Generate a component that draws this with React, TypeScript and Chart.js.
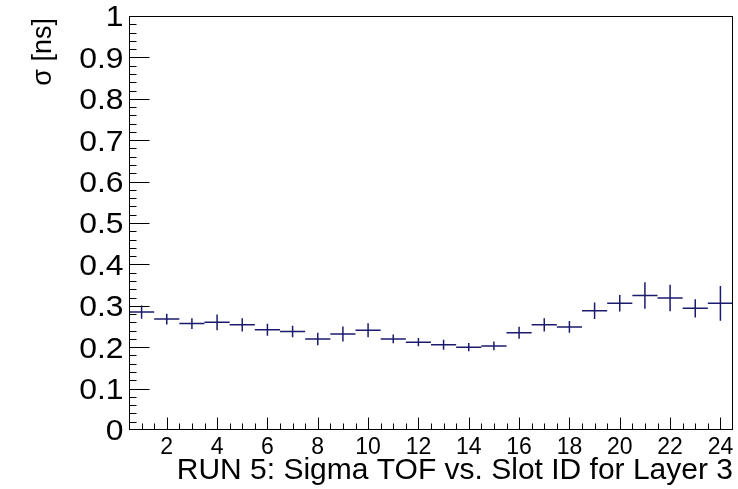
import { useEffect, useRef } from 'react';
import { Chart, registerables } from 'chart.js';

Chart.register(...registerables);

const slotIds = [1, 2, 3, 4, 5, 6, 7, 8, 9, 10, 11, 12, 13, 14, 15, 16, 17, 18, 19, 20, 21, 22, 23, 24];
const sigmaValues = [0.285, 0.268, 0.257, 0.26, 0.254, 0.242, 0.238, 0.22, 0.232, 0.241, 0.22, 0.212, 0.206, 0.2, 0.203, 0.235, 0.254, 0.249, 0.288, 0.306, 0.325, 0.319, 0.294, 0.306];
const sigmaErrors = [0.016, 0.013, 0.013, 0.019, 0.016, 0.0145, 0.014, 0.015, 0.018, 0.017, 0.0105, 0.01, 0.012, 0.01, 0.0105, 0.0145, 0.016, 0.014, 0.02, 0.02, 0.032, 0.032, 0.022, 0.042];
const xTickValues = [2, 4, 6, 8, 10, 12, 14, 16, 18, 20, 22, 24];
const yTickValues = [0, 0.1, 0.2, 0.3, 0.4, 0.5, 0.6, 0.7, 0.8, 0.9, 1];
const yTickLabels = ['0', '0.1', '0.2', '0.3', '0.4', '0.5', '0.6', '0.7', '0.8', '0.9', '1'];
const xTitle = 'RUN 5: Sigma TOF vs. Slot ID for Layer 3';
const yTitle = 'σ [ns]';

const FONT = '"Liberation Sans", Arial, Helvetica, sans-serif';
const MARK = '#1b1b6e';

export default function App() {
  const ref = useRef<HTMLCanvasElement>(null);

  useEffect(() => {
    document.body.style.margin = '0';
    const canvas = ref.current;
    if (!canvas) return;

    const rootStyle = {
      id: 'rootStyle',
      afterDatasetsDraw(chart: any) {
        const { ctx, chartArea: a } = chart;
        const x = chart.scales.x;
        const y = chart.scales.y;
        ctx.save();

        // error-bar crosses
        ctx.strokeStyle = MARK;
        ctx.lineWidth = 1.5;
        const pts = chart.data.datasets[0].data as { x: number; y: number }[];
        pts.forEach((p, i) => {
          const e = sigmaErrors[i];
          const px = x.getPixelForValue(p.x);
          const py = y.getPixelForValue(p.y);
          ctx.beginPath();
          ctx.moveTo(x.getPixelForValue(p.x - 0.5), py);
          ctx.lineTo(x.getPixelForValue(p.x + 0.5), py);
          ctx.moveTo(px, y.getPixelForValue(p.y + e));
          ctx.lineTo(px, y.getPixelForValue(p.y - e));
          ctx.stroke();
        });

        // frame
        ctx.strokeStyle = '#000';
        ctx.lineWidth = 1;
        const L = Math.round(a.left) + 0.5;
        const T = Math.round(a.top) + 0.5;
        const R = Math.round(a.right) - 0.5;
        const B = Math.round(a.bottom) - 0.5;
        ctx.strokeRect(L, T, R - L, B - T);

        // y ticks (inside)
        ctx.beginPath();
        for (let k = 1; k < 50; k++) {
          const py = Math.round(y.getPixelForValue(k * 0.02)) + 0.5;
          const len = k % 5 === 0 ? 20 : 7;
          ctx.moveTo(L, py);
          ctx.lineTo(L + len, py);
        }
        // x ticks (inside)
        for (let k = 2; k <= 48; k++) {
          const v = k * 0.5;
          const px = Math.round(x.getPixelForValue(v)) + 0.5;
          const len = v % 2 === 0 ? 12 : 6;
          ctx.moveTo(px, B);
          ctx.lineTo(px, B - len);
        }
        ctx.stroke();

        // y tick labels
        ctx.fillStyle = '#000';
        ctx.font = `29px ${FONT}`;
        ctx.textAlign = 'right';
        ctx.textBaseline = 'alphabetic';
        yTickValues.forEach((v, i) => {
          const py = y.getPixelForValue(v);
          ctx.save();
          ctx.translate(123.5, py + 10.3);
          ctx.scale(1.1, 1);
          ctx.fillText(yTickLabels[i], 0, 0);
          ctx.restore();
        });

        // y title
        ctx.font = `27px ${FONT}`;
        ctx.save();
        ctx.translate(51, 18);
        ctx.rotate(-Math.PI / 2);
        ctx.textAlign = 'right';
        ctx.fillText(yTitle, 0, 0);
        ctx.restore();

        ctx.restore();
      },
    };

    const chart = new Chart(canvas, {
      type: 'scatter',
      data: {
        datasets: [
          {
            data: slotIds.map((s, i) => ({ x: s, y: sigmaValues[i] })),
            pointRadius: 0,
            showLine: false,
            borderColor: MARK,
            backgroundColor: MARK,
          },
        ],
      },
      options: {
        responsive: false,
        animation: false,
        devicePixelRatio: 1,
        layout: { padding: { left: 0, right: 5, top: 16, bottom: 0 } },
        plugins: { legend: { display: false }, tooltip: { enabled: false } },
        scales: {
          x: {
            type: 'linear',
            min: 0.5,
            max: 24.5,
            afterBuildTicks: (s: any) => {
              s.ticks = xTickValues.map((v) => ({ value: v }));
            },
            afterFit: (s: any) => {
              s.height = 59;
            },
            grid: { display: false, drawTicks: false },
            border: { display: false },
            ticks: {
              autoSkip: false,
              maxRotation: 0,
              padding: 4,
              color: '#000',
              font: { family: FONT, size: 23 },
            },
            title: {
              display: true,
              text: xTitle,
              align: 'end',
              color: '#000',
              font: { family: FONT, size: 30 },
              padding: { top: 0, bottom: 0 },
            },
          },
          y: {
            type: 'linear',
            min: 0,
            max: 1,
            afterFit: (s: any) => {
              s.width = 129;
            },
            grid: { display: false, drawTicks: false },
            border: { display: false },
            ticks: { display: false },
          },
        },
      },
      plugins: [rootStyle],
    });

    return () => chart.destroy();
  }, []);

  return <canvas ref={ref} width={738} height={489} style={{ display: 'block' }} />;
}
